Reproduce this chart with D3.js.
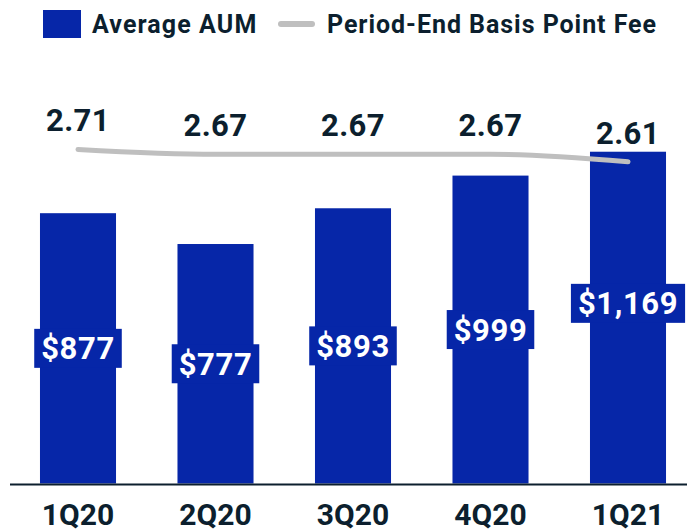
<!DOCTYPE html>
<html>
<head>
<meta charset="utf-8">
<script src="https://cdn.jsdelivr.net/npm/d3@7"></script>
<style>
  html, body { margin: 0; padding: 0; background: #ffffff; }
  svg { display: block; font-family: Roboto, "Noto Sans", sans-serif; }
</style>
</head>
<body>
<svg id="chart" width="687" height="530"></svg>
<script>
// Quarterly data
const quarters = ["1Q20", "2Q20", "3Q20", "4Q20", "1Q21"];
const averageAum = [877, 777, 893, 999, 1169];          // $ millions
const basisPointFee = [2.71, 2.67, 2.67, 2.67, 2.61];    // period-end bps
const aumLabels = ["$877", "$777", "$893", "$999", "$1,169"];
const feeLabels = ["2.71", "2.67", "2.67", "2.67", "2.61"];

const BLUE = "#0626a8";
const GREY = "#bfbfbf";
const INK = "#0c1f2e";

const svg = d3.select("#chart");
const baseY = 483.5;
const topY = 52;

const x = d3.scaleBand()
  .domain(quarters)
  .range([9.25, 696.75])
  .paddingInner(0.447)
  .paddingOuter(0.2235);

const yAum = d3.scaleLinear().domain([0, 1400]).range([baseY, topY]);
const yFee = d3.scaleLinear().domain([0, 3.5]).range([baseY, topY]);

const rows = quarters.map((q, i) => ({
  q, aum: averageAum[i], fee: basisPointFee[i], aumLabel: aumLabels[i], feeLabel: feeLabels[i]
}));

// Bars
svg.append("g").selectAll("rect")
  .data(rows)
  .join("rect")
  .attr("x", d => x(d.q))
  .attr("y", d => yAum(d.aum))
  .attr("width", x.bandwidth())
  .attr("height", d => baseY - yAum(d.aum))
  .attr("fill", BLUE);

// Value tags centred in each bar
const tags = svg.append("g").selectAll("g")
  .data(rows)
  .join("g")
  .attr("transform", d => `translate(${x(d.q) + x.bandwidth() / 2},${(yAum(d.aum) + baseY) / 2})`);

tags.append("text")
  .attr("text-anchor", "middle")
  .attr("dy", 11)
  .attr("font-size", 31)
  .attr("font-weight", 700)
  .attr("letter-spacing", 0.6)
  .attr("fill", "#ffffff")
  .text(d => d.aumLabel)
  .each(function () {
    const b = this.getBBox();
    d3.select(this.parentNode).insert("rect", "text")
      .attr("x", b.x - 7)
      .attr("y", -19.5)
      .attr("width", b.width + 14)
      .attr("height", 39)
      .attr("fill", BLUE);
  });

// Fee line
const line = d3.line()
  .x(d => x(d.q) + x.bandwidth() / 2)
  .y(d => yFee(d.fee))
  .curve(d3.curveMonotoneX);

svg.append("path")
  .datum(rows)
  .attr("d", line)
  .attr("fill", "none")
  .attr("stroke", GREY)
  .attr("stroke-width", 5)
  .attr("stroke-linecap", "round");

// Fee labels on white plates
const feeTags = svg.append("g").selectAll("g")
  .data(rows)
  .join("g")
  .attr("transform", d => `translate(${x(d.q) + x.bandwidth() / 2},${yFee(d.fee) - 18})`);

feeTags.append("rect")
  .attr("x", -x.bandwidth() / 2 - 6)
  .attr("y", -30)
  .attr("width", x.bandwidth() + 12)
  .attr("height", 38)
  .attr("fill", "#ffffff");

feeTags.append("text")
  .attr("text-anchor", "middle")
  .attr("font-size", 31)
  .attr("font-weight", 700)
  .attr("letter-spacing", 0.4)
  .attr("fill", INK)
  .text(d => d.feeLabel);

// Baseline axis
const xAxis = d3.axisBottom(x).tickSize(0).tickPadding(0);
const axisG = svg.append("g")
  .attr("transform", `translate(0,${baseY})`)
  .call(xAxis);
axisG.select(".domain").remove();
axisG.append("line")
  .attr("x1", 10).attr("x2", 687)
  .attr("y1", 1).attr("y2", 1)
  .attr("stroke", INK)
  .attr("stroke-width", 2.2);
axisG.selectAll(".tick text")
  .attr("y", 41)
  .attr("dy", 0)
  .attr("font-size", 30)
  .attr("font-weight", 700)
  .attr("font-family", "Roboto, sans-serif")
  .attr("fill", INK);

// Legend
const legend = svg.append("g");
legend.append("rect")
  .attr("x", 43).attr("y", 10).attr("width", 38).attr("height", 28)
  .attr("fill", BLUE);
legend.append("text")
  .attr("x", 92).attr("y", 33)
  .attr("font-size", 25)
  .attr("font-weight", 700)
  .attr("letter-spacing", 1.1)
  .attr("fill", INK)
  .text("Average AUM");
legend.append("line")
  .attr("x1", 281).attr("x2", 312)
  .attr("y1", 24).attr("y2", 24)
  .attr("stroke", GREY)
  .attr("stroke-width", 6)
  .attr("stroke-linecap", "round");
legend.append("text")
  .attr("x", 327).attr("y", 33)
  .attr("font-size", 25)
  .attr("font-weight", 700)
  .attr("letter-spacing", 0.95)
  .attr("fill", INK)
  .text("Period-End Basis Point Fee");
</script>
</body>
</html>
